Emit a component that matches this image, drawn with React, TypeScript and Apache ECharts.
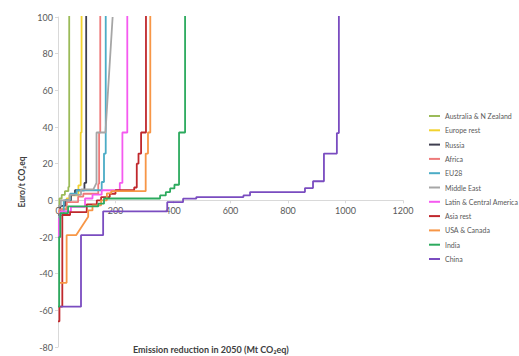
import React, { useEffect, useRef } from "react";
import * as echarts from "echarts";

type Pt = [number, number];

const seriesNames = [
  "Australia & N Zealand",
  "Europe rest",
  "Russia",
  "Africa",
  "EU28",
  "Middle East",
  "Latin & Central America",
  "Asia rest",
  "USA & Canada",
  "India",
  "China",
];

const seriesColors = [
  "#9BBB59",
  "#F2D22E",
  "#3F3F50",
  "#EE7A7A",
  "#4BACC6",
  "#A6A6A6",
  "#F55AF0",
  "#C0282D",
  "#F79646",
  "#2CAA5E",
  "#7A4CC0",
];

const australia: Pt[] = [[0, -3], [5, -3], [5, 1], [13, 1], [13, 3], [24, 3], [24, 5], [36, 5], [36, 7.3], [39, 7.3], [39, 130]];
const europeRest: Pt[] = [[0, -6], [15, -6], [15, -4.5], [30, -4.5], [30, 1], [40, 1], [40, 2.7], [71, 2.7], [71, 8.2], [79, 8.2], [79, 37], [82, 37], [82, 130]];
const russia: Pt[] = [[0, -8], [8, -8], [8, -3], [25, -3], [25, 0], [45, 0], [45, 3], [59, 3], [59, 5.5], [92, 5.5], [92, 9.5], [98, 9.5], [98, 130]];
const africa: Pt[] = [[0, -10], [5, -10], [5, -5], [30, -5], [30, -1], [70, -1], [70, 2], [88, 2], [88, 3.6], [140, 3.6], [140, 9], [143, 9], [143, 37], [147, 37], [147, 130]];
const eu28: Pt[] = [[0, -20], [5, -20], [5, -8], [20, -8], [20, 0], [42, 0], [42, 3.6], [65, 3.6], [65, 5.5], [152, 5.5], [152, 10], [160, 10], [160, 25.5], [166, 25.5], [166, 130]];
const middleEast: Pt[] = [[0, -3], [10, -3], [10, 0], [40, 0], [40, 3], [80, 3], [80, 6], [123, 6], [134, 9.5], [134, 37], [165, 37], [190, 100]];
const latin: Pt[] = [[0, -20], [3, -20], [3, -10], [8, -10], [8, -6], [45, -6], [45, -3.6], [94, -3.6], [94, 1], [120, 1], [120, 3.1], [152, 3.1], [152, 5.5], [215, 5.5], [215, 9.5], [224, 9.5], [224, 37], [241, 37], [241, 130]];
const asiaRest: Pt[] = [[0, -66], [5, -66], [5, -58], [15, -58], [15, -8], [42, -8], [42, -6.4], [100, -6.4], [100, -2.2], [135, -2.2], [135, 0], [150, 0], [150, 1.8], [180, 1.8], [180, 3.6], [200, 3.6], [200, 5.5], [265, 5.5], [265, 7], [274, 7], [274, 20], [280, 20], [280, 25.5], [289, 25.5], [289, 37], [306, 37], [306, 130]];
const usaCanada: Pt[] = [[5, -45], [30, -45], [30, -19], [63, -19], [105, -9], [105, -5.5], [120, -5.5], [120, -2.7], [150, -2.7], [150, 0], [170, 0], [170, 3.8], [185, 3.8], [185, 5], [305, 5], [305, 25.5], [313, 25.5], [313, 37], [321, 37], [321, 130]];
const india: Pt[] = [[0, -58], [4, -58], [4, -20], [8, -20], [8, -7], [35, -7], [35, -3.3], [140, -3.3], [140, -1.8], [160, -1.8], [160, 1], [355, 1], [355, 2.7], [375, 2.7], [375, 4.5], [390, 4.5], [390, 6.5], [405, 6.5], [405, 8.5], [421, 8.5], [421, 37], [442, 37], [442, 130]];
const china: Pt[] = [[8, -58], [80, -58], [80, -19], [157, -19], [157, -6], [380, -6], [380, -1], [435, -1], [435, 0.9], [481, 0.9], [481, 1.8], [645, 1.8], [645, 2.7], [668, 2.7], [668, 4.5], [859, 4.5], [859, 6.7], [887, 6.7], [887, 10.4], [925, 10.4], [925, 25.5], [970, 25.5], [970, 36.7], [977, 36.7], [977, 130]];

const seriesData: Pt[][] = [australia, europeRest, russia, africa, eu28, middleEast, latin, asiaRest, usaCanada, india, china];

const xTicks = { min: 0, max: 1200, interval: 200 };
const yTicks = { min: -80, max: 100, interval: 20 };

const yAxisName = "Euro/t CO\u2082eq";
const xAxisName = "Emission reduction in 2050 (Mt CO\u2082eq)";

const FONT = "Lato, 'Open Sans', sans-serif";

const GRID_TOP = 17;
const GRID_BOTTOM = 9;
const PLOT_H = 356 - GRID_TOP - GRID_BOTTOM;
// shift of the x axis from the grid bottom up to the y = 0 level
const X_AXIS_OFFSET = -(PLOT_H * (0 - yTicks.min)) / (yTicks.max - yTicks.min);

export default function App() {
  const ref = useRef<HTMLDivElement>(null);
  useEffect(() => {
    if (!ref.current) return;
    const chart = echarts.init(ref.current, undefined, { renderer: "svg" });
    chart.setOption({
      animation: false,
      backgroundColor: "#ffffff",
      textStyle: { fontFamily: FONT },
      grid: { left: 58, right: 116, top: GRID_TOP, bottom: GRID_BOTTOM, containLabel: false },
      xAxis: {
        type: "value",
        position: "bottom",
        offset: X_AXIS_OFFSET,
        min: xTicks.min,
        max: xTicks.max,
        interval: xTicks.interval,
        axisLine: { show: true, onZero: false, lineStyle: { color: "#D9D9D9", width: 1 } },
        axisTick: { show: true, length: 3, lineStyle: { color: "#D9D9D9" } },
        axisLabel: { color: "#595959", fontSize: 9, margin: 6, fontFamily: FONT, formatter: (v: number) => String(v) },
        splitLine: { show: false },
      },
      yAxis: {
        type: "value",
        min: yTicks.min,
        max: yTicks.max,
        interval: yTicks.interval,
        name: yAxisName,
        nameLocation: "middle",
        nameGap: 32,
        nameRotate: 90,
        nameTextStyle: { fontSize: 8.5, fontWeight: "bold", color: "#404040", fontFamily: FONT },
        axisLine: { show: true, onZero: false, lineStyle: { color: "#D9D9D9", width: 1 } },
        axisTick: { show: true, length: 3, lineStyle: { color: "#D9D9D9" } },
        axisLabel: { color: "#595959", fontSize: 9, margin: 5, fontFamily: FONT },
        splitLine: { show: false },
      },
      legend: {
        orient: "vertical",
        left: 429,
        top: 111,
        icon: "rect",
        itemWidth: 11,
        itemHeight: 2,
        itemGap: 4.3,
        padding: 0,
        textStyle: { fontSize: 7, lineHeight: 10, color: "#595959", fontFamily: FONT },
        data: seriesNames,
      },
      graphic: [
        {
          type: "text",
          left: 133,
          top: 345,
          style: { text: xAxisName, font: `bold 9px ${FONT}`, fill: "#404040" },
        },
      ],
      series: seriesNames.map((name, i) => ({
        name,
        type: "line",
        data: seriesData[i],
        symbol: "none",
        showSymbol: false,
        clip: true,
        color: seriesColors[i],
        lineStyle: { color: seriesColors[i], width: 1.8 },
      })),
    });
    return () => chart.dispose();
  }, []);
  return <div ref={ref} style={{ position: "fixed", left: 0, top: 0, width: 519, height: 356 }} />;
}
